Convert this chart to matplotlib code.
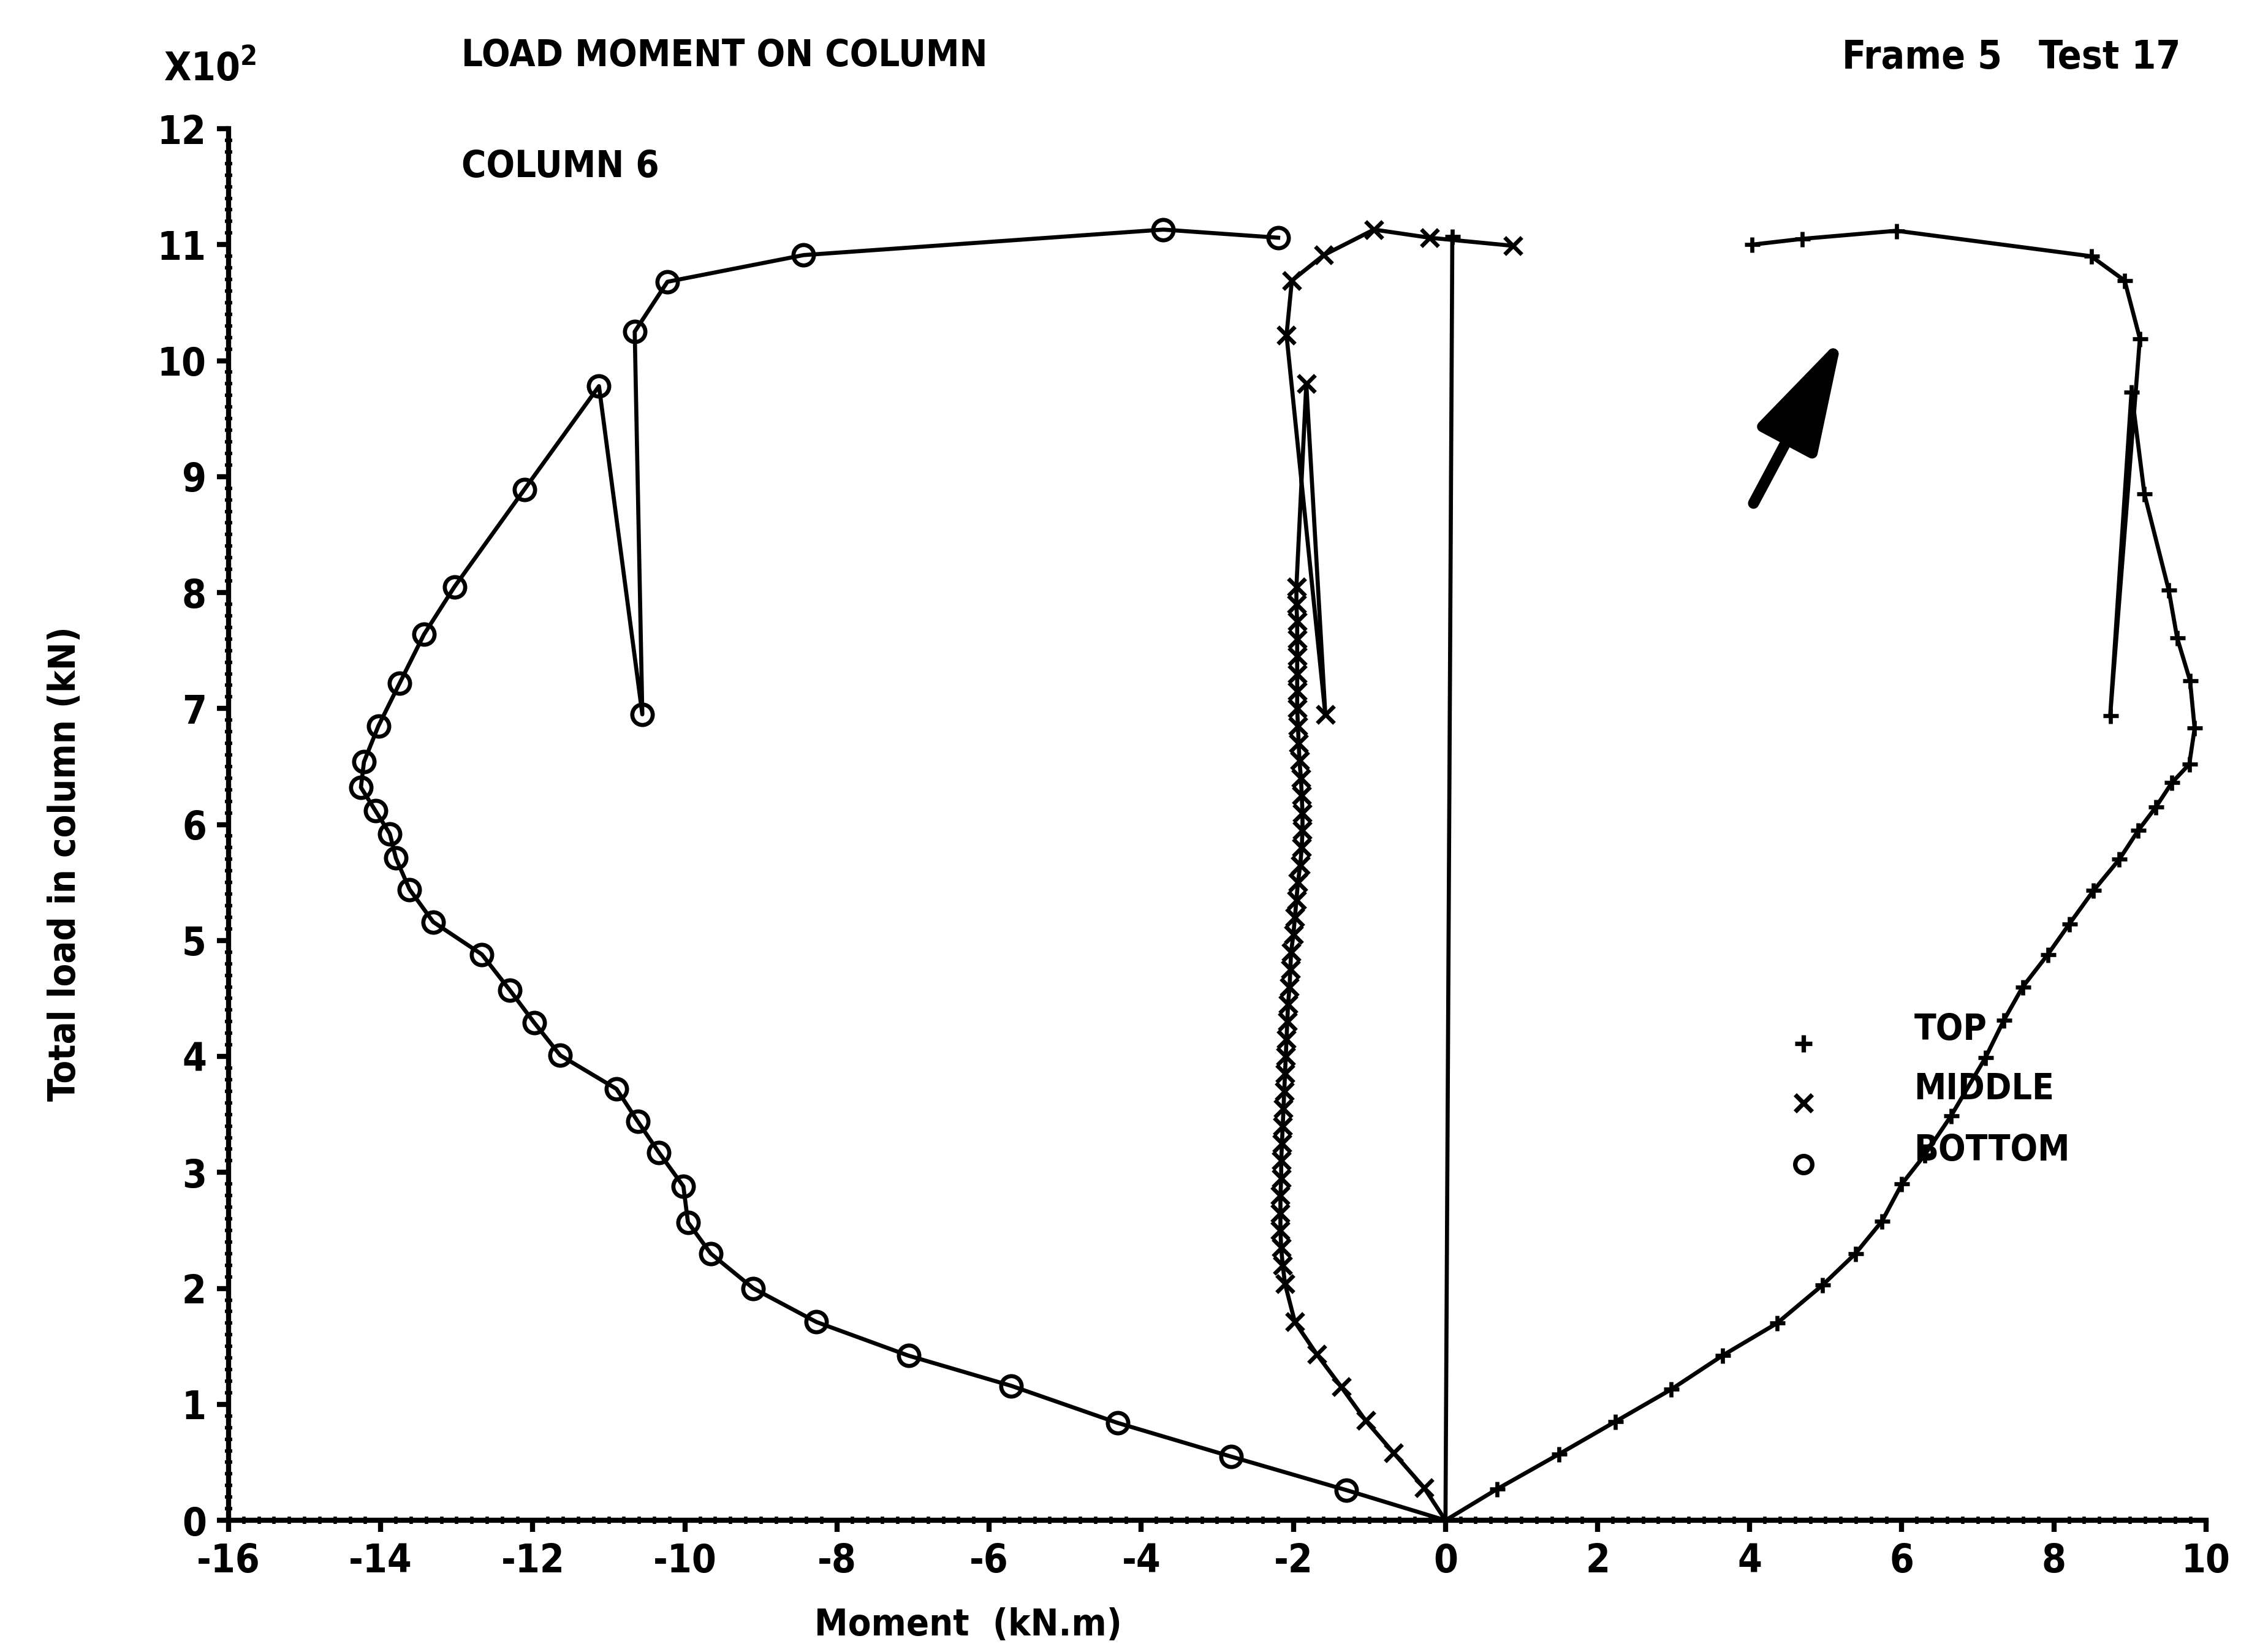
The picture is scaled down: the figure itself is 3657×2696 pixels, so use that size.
import numpy as np
import matplotlib
matplotlib.use("Agg")
import matplotlib.pyplot as plt
from matplotlib.ticker import MultipleLocator

plt.rcParams['font.family'] = ['DejaVu Sans']
plt.rcParams['font.stretch'] = 'condensed'
plt.rcParams['font.weight'] = 'bold'
plt.rcParams['axes.unicode_minus'] = False

# --- donnees (moment kN.m, charge x100 kN) ---
bottom_x = [0.0, -1.30, -2.82, -4.31, -5.71, -7.06, -8.27, -9.10, -9.66, -9.96,
            -10.02, -10.34, -10.62, -10.90, -11.64, -11.98, -12.30, -12.67, -13.31,
            -13.62, -13.80, -13.88, -14.07, -14.26, -14.22, -14.03, -13.75, -13.43,
            -13.03, -12.11, -11.13, -10.56, -10.66, -10.23, -8.44, -3.71, -2.20]
bottom_y = [0.0, 0.26, 0.55, 0.84, 1.16, 1.42, 1.71, 2.00, 2.30, 2.57,
            2.88, 3.17, 3.44, 3.72, 4.01, 4.29, 4.57, 4.88, 5.16,
            5.44, 5.71, 5.92, 6.12, 6.32, 6.54, 6.85, 7.22, 7.64,
            8.05, 8.89, 9.78, 6.95, 10.25, 10.68, 10.91, 11.13, 11.06]

middle_x = [0.0, -0.28, -0.68, -1.05, -1.37, -1.69, -1.98, -2.11, -2.14, -2.16,
            -2.17, -2.17, -2.17, -2.16, -2.16, -2.15, -2.14, -2.13, -2.12, -2.11,
            -2.10, -2.09, -2.08, -2.07, -2.05, -2.04, -2.03, -2.00, -1.98, -1.96,
            -1.94, -1.91, -1.89, -1.88, -1.88, -1.89, -1.90, -1.92, -1.93, -1.94,
            -1.95, -1.95, -1.95, -1.95, -1.95, -1.95, -1.96, -1.96, -1.83, -1.58,
            -2.09, -2.02, -1.60, -0.94, -0.21, 0.89]
middle_y = [0.0, 0.28, 0.58, 0.86, 1.15, 1.43, 1.71, 2.04, 2.20, 2.35,
            2.50, 2.65, 2.80, 2.95, 3.10, 3.25, 3.40, 3.55, 3.70, 3.85,
            4.00, 4.15, 4.30, 4.45, 4.60, 4.75, 4.90, 5.05, 5.20, 5.35,
            5.50, 5.65, 5.80, 5.95, 6.10, 6.25, 6.40, 6.55, 6.70, 6.85,
            7.00, 7.15, 7.30, 7.45, 7.60, 7.75, 7.90, 8.05, 9.80, 6.95,
            10.22, 10.69, 10.91, 11.13, 11.06, 10.99]

top_x = [0.09, 0.0, 0.68, 1.49, 2.23, 2.97, 3.64, 4.36, 4.96, 5.39, 5.74,
         6.00, 6.30, 6.65, 7.10, 7.34, 7.59, 7.92, 8.20, 8.52, 8.86, 9.11,
         9.34, 9.55, 9.78, 9.85, 9.79, 9.62, 9.51, 9.19, 9.02, 8.74, 9.13,
         8.93, 8.49, 5.93, 4.69, 4.03]
top_y = [11.07, 0.0, 0.27, 0.57, 0.85, 1.13, 1.42, 1.70, 2.03, 2.30, 2.58,
         2.90, 3.15, 3.49, 3.99, 4.31, 4.60, 4.88, 5.14, 5.43, 5.70, 5.95,
         6.15, 6.36, 6.52, 6.83, 7.24, 7.61, 8.02, 8.85, 9.73, 6.94, 10.19,
         10.69, 10.90, 11.12, 11.05, 11.00]

legend_labels = ['TOP', 'MIDDLE', 'BOTTOM']

fig = plt.figure(figsize=(18.285, 13.48), dpi=200)
ax = fig.add_axes([0.102, 0.0797, 0.8824, 0.8424])

lw = 2.4
ax.plot(bottom_x, bottom_y, color='black', lw=lw, marker='o', ms=12,
        mfc='none', mew=2.4, markevery=list(range(1, len(bottom_x))))
ax.plot(middle_x, middle_y, color='black', lw=lw, marker='x', ms=10,
        mew=2.4, markevery=list(range(1, len(middle_x))))
ax.plot(top_x, top_y, color='black', lw=lw, marker='+', ms=9, mew=2.4,
        markevery=[i for i in range(len(top_x)) if i != 1])

# legende dessinee a la main comme sur le traceur
leg_mk = ['+', 'x', 'o']
leg_y = [4.11, 3.60, 3.07]
for mk, yy, lab in zip(leg_mk, leg_y, legend_labels):
    ax.plot([4.71], [yy], marker=mk, color='black', ms=10, mfc='none', mew=2.6)
    ax.text(6.16, yy + 0.12, lab, fontsize=21, va='center', ha='left')

# fleche
ax.annotate('', xy=(5.22, 10.21), xytext=(4.05, 8.77),
            arrowprops=dict(arrowstyle='-|>,head_length=2.6,head_width=0.75',
                            mutation_scale=22, lw=6.5, color='black',
                            shrinkA=0, shrinkB=0, capstyle='round'))

ax.set_xlim(-16, 10)
ax.set_ylim(0, 12)
for side in ['top', 'right']:
    ax.spines[side].set_visible(False)
for side in ['left', 'bottom']:
    ax.spines[side].set_linewidth(3)
ax.xaxis.set_major_locator(MultipleLocator(2))
ax.xaxis.set_minor_locator(MultipleLocator(0.2))
ax.yaxis.set_major_locator(MultipleLocator(1))
ax.yaxis.set_minor_locator(MultipleLocator(0.1))
ax.tick_params(which='major', direction='out', length=7, width=3,
               labelsize=23, pad=6)
ax.tick_params(which='minor', direction='inout', length=4, width=2)

fig.text(0.073, 0.958, 'X10$^2$', fontsize=23, ha='left', va='center')
fig.text(0.206, 0.966, 'LOAD MOMENT ON COLUMN', fontsize=22, ha='left', va='center')
fig.text(0.206, 0.899, 'COLUMN 6', fontsize=22, ha='left', va='center')
fig.text(0.973, 0.965, 'Frame 5   Test 17', fontsize=23, ha='right', va='center')
fig.text(0.029, 0.477, 'Total load in column (kN)', fontsize=22, rotation=90,
         ha='center', va='center')
fig.text(0.432, 0.016, 'Moment  (kN.m)', fontsize=22, ha='center', va='center')

fig.savefig('out.png', dpi=200, facecolor='white')
